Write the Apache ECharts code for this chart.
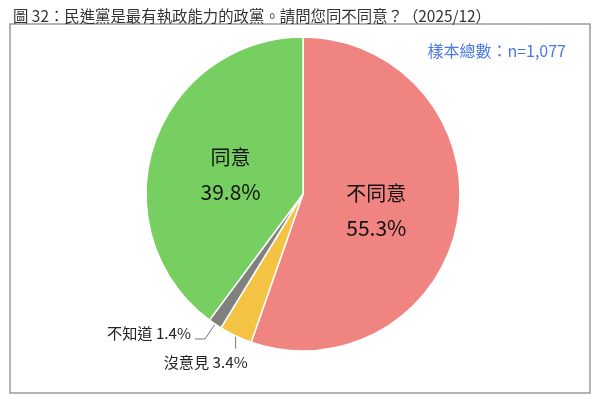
<!DOCTYPE html>
<html>
<head>
<meta charset="utf-8">
<script src="https://cdn.jsdelivr.net/npm/echarts@6/dist/echarts.min.js"></script>
<style>
html,body{margin:0;padding:0;background:#fff;}
#main{width:600px;height:401px;}
</style>
</head>
<body>
<div id="main"></div>
<script>
var titleText = '圖 32：民進黨是最有執政能力的政黨。請問您同不同意？（2025/12）';
var sampleText = '樣本總數：n=1,077';
var categories = ['不同意', '沒意見', '不知道', '同意'];
var values = [55.3, 3.4, 1.4, 39.8];
var colors = ['#F08481', '#F5C343', '#808080', '#77CF62'];

var chart = echarts.init(document.getElementById('main'));
var data = categories.map(function (c, i) {
  var item = { name: c, value: values[i], itemStyle: { color: colors[i] } };
  if (i === 0 || i === 3) {
    item.label = {
      position: 'inside',
      formatter: '{n|{b}}\n{v|{c}%}',
      rich: {
        n: { fontSize: 20, lineHeight: 35, color: '#111', fontFamily: 'Noto Sans CJK TC' },
        v: { fontSize: 21, lineHeight: 35, color: '#111', fontFamily: 'Noto Sans CJK TC' }
      }
    };
    item.labelLine = { show: false };
  } else if (i === 2) {
    item.label = { position: 'outside', distanceToLabelLine: 4 };
    item.labelLine = { show: true, length: 18, length2: 10 };
  } else {
    item.label = { position: 'outside' };
    item.labelLine = { show: true, length: 12, length2: 0 };
  }
  return item;
});

chart.setOption({
  backgroundColor: '#fff',
  animation: false,
  title: {
    text: titleText,
    left: 8,
    top: 3,
    textStyle: { fontSize: 15.4, fontWeight: 'normal', color: '#333', fontFamily: 'Noto Sans CJK TC' }
  },
  graphic: [
    {
      type: 'rect',
      shape: { x: 10, y: 24, width: 580, height: 369 },
      style: { fill: 'none', stroke: '#9a9a9a', lineWidth: 1.5 },
      z: -1
    },
    {
      type: 'text',
      right: 34,
      top: 43,
      style: { text: sampleText, fill: '#4A78E6', fontSize: 16, fontFamily: 'Noto Sans CJK TC' }
    }
  ],
  series: [{
    type: 'pie',
    center: [303, 194],
    radius: 157,
    startAngle: 90,
    clockwise: true,
    avoidLabelOverlap: false,
    itemStyle: { borderColor: '#fff', borderWidth: 1.5 },
    label: {
      show: true,
      formatter: '{b} {c}%',
      fontSize: 15.2,
      color: '#222',
      fontFamily: 'Noto Sans CJK TC'
    },
    labelLine: { lineStyle: { color: '#777', width: 1 } },
    labelLayout: function (p) {
      if (p.dataIndex === 1 && p.labelLinePoints) {
        var s = p.labelLinePoints[0];
        var e = [s[0], s[1] + 13];
        return {
          x: e[0] - 30,
          y: e[1] + 6,
          align: 'center',
          verticalAlign: 'top',
          labelLinePoints: [s, e, e]
        };
      }
      if (p.dataIndex === 2 && p.labelLinePoints) {
        return { dy: -6, labelLinePoints: p.labelLinePoints };
      }
      if (p.dataIndex === 3) {
        return { dx: 5, dy: 6 };
      }
      if (p.dataIndex === 0) {
        return { dx: -7, dy: 3 };
      }
    },
    data: data
  }]
});
</script>
</body>
</html>
